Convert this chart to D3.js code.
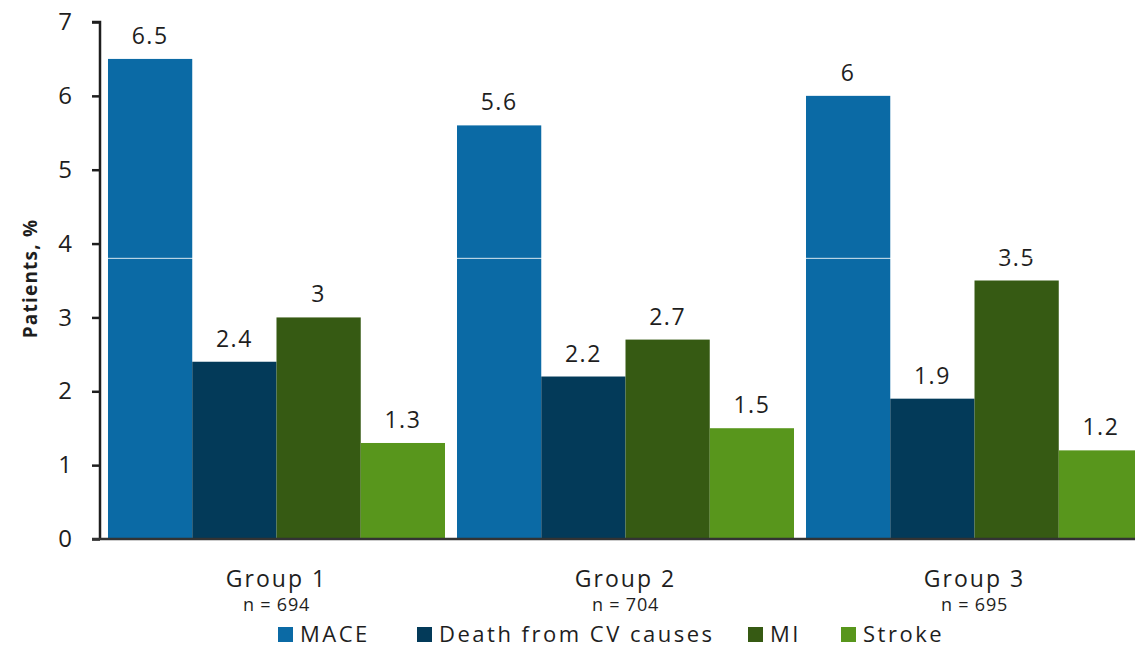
<!DOCTYPE html>
<html>
<head>
<meta charset="utf-8">
<script src="https://cdn.jsdelivr.net/npm/d3@7"></script>
<style>
  html, body { margin: 0; padding: 0; background: #fff; }
  svg { display: block; font-family: "Open Sans", sans-serif; }
</style>
</head>
<body>
<svg id="chart" width="1135" height="648"></svg>
<script>
// Outcome rates per group
const groups = ["Group 1", "Group 2", "Group 3"];
const groupN = ["n = 694", "n = 704", "n = 695"];
const seriesNames = ["MACE", "Death from CV causes", "MI", "Stroke"];
const mace = [6.5, 5.6, 6];
const deathCV = [2.4, 2.2, 1.9];
const mi = [3, 2.7, 3.5];
const stroke = [1.3, 1.5, 1.2];
const yTicks = [0, 1, 2, 3, 4, 5, 6, 7];

const seriesValues = [mace, deathCV, mi, stroke];
const colors = ["#0b6aa5", "#033a59", "#365a13", "#58961c"];
const ink = "#1e1e1e";

const svg = d3.select("#chart");
const axisX = 100, baseY = 539, topY = 22;

const x0 = d3.scaleBand().domain(groups).range([axisX, 1151])
  .paddingInner(0.0344).paddingOuter(0.0229);
const x1 = d3.scaleBand().domain(seriesNames).range([0, x0.bandwidth()]).padding(0);
const y = d3.scaleLinear().domain([0, 7]).range([baseY, topY]);

// bars with value labels
const g = svg.append("g");
groups.forEach((grp, gi) => {
  seriesNames.forEach((s, si) => {
    const v = seriesValues[si][gi];
    g.append("rect")
      .attr("x", x0(grp) + x1(s))
      .attr("y", y(v))
      .attr("width", x1.bandwidth())
      .attr("height", y(0) - y(v))
      .attr("fill", colors[si]);
    g.append("text")
      .attr("x", x0(grp) + x1(s) + x1.bandwidth() / 2)
      .attr("y", y(v) - 15)
      .attr("text-anchor", "middle")
      .attr("font-size", 23)
      .attr("letter-spacing", 1.5)
      .attr("fill", ink)
      .text(v);
  });
});

// thin light rule across the plot
svg.append("line")
  .attr("x1", axisX).attr("x2", 1135)
  .attr("y1", y(3.8)).attr("y2", y(3.8))
  .attr("stroke", "#fff").attr("stroke-width", 1).attr("opacity", 0.85);

// y axis
const yAxis = d3.axisLeft(y).tickValues(yTicks).tickSize(8).tickPadding(20).tickFormat(d3.format("d"));
const ya = svg.append("g").attr("transform", `translate(${axisX},0)`).call(yAxis);
ya.select(".domain").attr("stroke", ink).attr("stroke-width", 2.5)
  .attr("d", `M-8,${y(7)}H0V${y(0)}`);
ya.selectAll(".tick line").attr("stroke", ink).attr("stroke-width", 2.5);
ya.selectAll(".tick text").attr("font-size", 24).attr("fill", ink)
  .attr("font-family", "'Open Sans', sans-serif");

// x baseline
svg.append("line")
  .attr("x1", axisX - 8).attr("x2", 1135)
  .attr("y1", y(0)).attr("y2", y(0))
  .attr("stroke", "#333").attr("stroke-width", 2.5);

// y title
svg.append("text")
  .attr("transform", `translate(37,${(y(0) + y(7)) / 2 - 2}) rotate(-90)`)
  .attr("text-anchor", "middle")
  .attr("font-size", 19).attr("font-weight", "bold").attr("letter-spacing", 1.2)
  .attr("fill", ink)
  .text("Patients, %");

// group labels
groups.forEach((grp, gi) => {
  const cx = x0(grp) + x0.bandwidth() / 2;
  svg.append("text").attr("x", cx).attr("y", 587)
    .attr("text-anchor", "middle").attr("font-size", 23).attr("letter-spacing", 2)
    .attr("fill", ink).text(grp);
  svg.append("text").attr("x", cx).attr("y", 611)
    .attr("text-anchor", "middle").attr("font-size", 18).attr("letter-spacing", 0.8)
    .attr("fill", ink).text(groupN[gi]);
});

// legend
const legendTextX = [300, 439, 770, 863];
const leg = svg.append("g");
seriesNames.forEach((s, si) => {
  leg.append("rect").attr("x", legendTextX[si] - 22).attr("y", 627)
    .attr("width", 15).attr("height", 15).attr("fill", colors[si]);
  leg.append("text").attr("x", legendTextX[si]).attr("y", 642)
    .attr("font-size", 22).attr("letter-spacing", 2.5)
    .attr("fill", ink).text(s);
});
</script>
</body>
</html>
